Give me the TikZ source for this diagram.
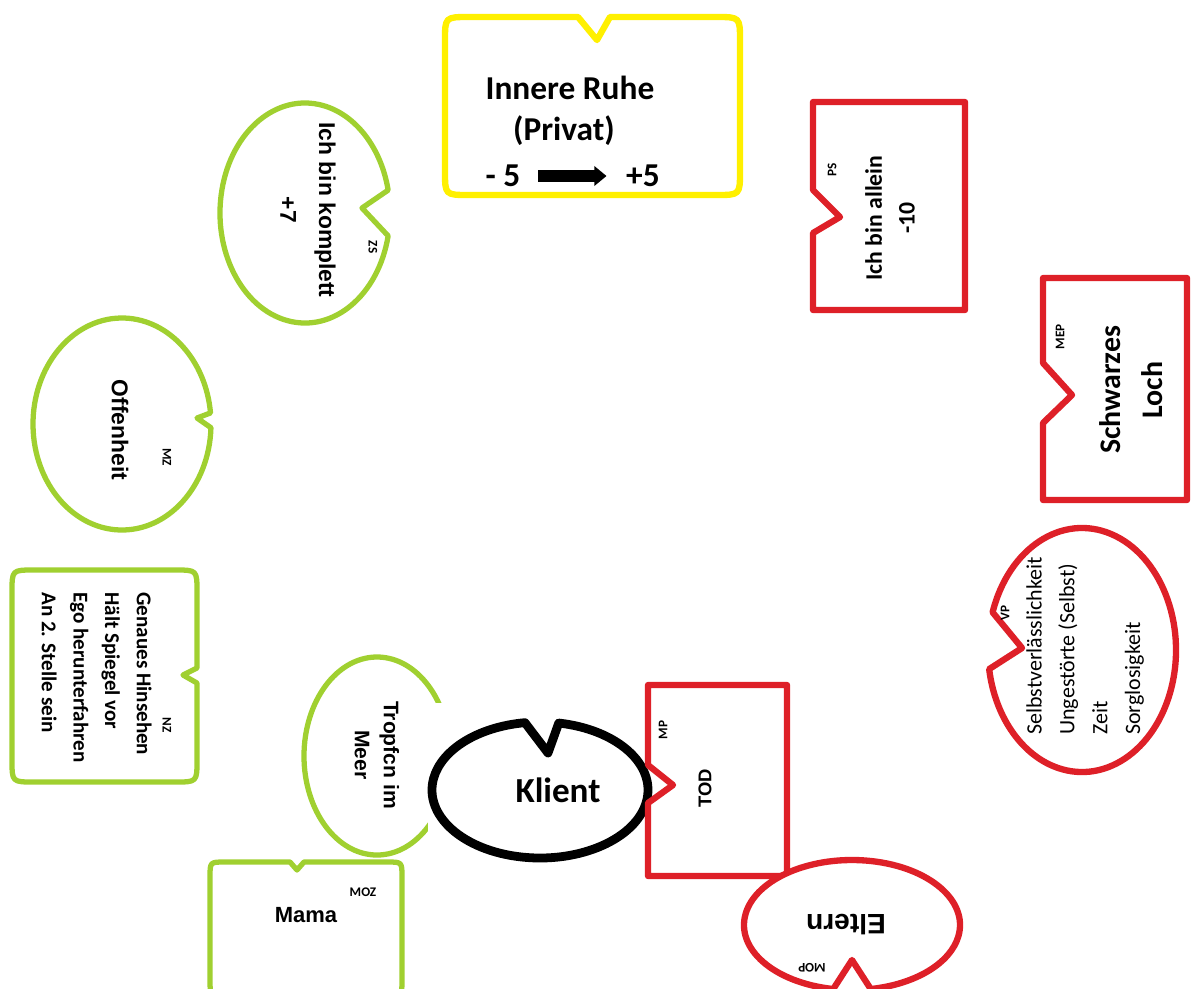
\documentclass[tikz,border=0pt]{standalone}
\usepackage{fontspec}
\setmainfont{Carlito}
\newfontfamily\arialfont{Liberation Sans}
\usetikzlibrary{
	arrows.meta,
	calc
}
\definecolor{lgruen}{RGB}{160,208,48}
\definecolor{lrot}{RGB}{222,32,40}
\definecolor{lgelb}{RGB}{255,240,0}

\begin{document}
\begin{tikzpicture}[
			x=0.02cm, y=-0.02cm,
			gruenrand/.style={draw=lgruen, line width=3pt, fill=white, line join=round},
			rotrand/.style={draw=lrot, line width=3.6pt, fill=white, line join=round},
			gelbrand/.style={draw=lgelb, line width=3.6pt, fill=white, line join=round},
			klientrand/.style={draw=black, line width=5pt, fill=white, line join=round},
			txt/.style={inner sep=0pt, align=center},
			kz/.style={inner sep=0pt, font=\fontsize{7.5}{8}\selectfont\bfseries},
			pfeil/.style={line width=6.5pt, -{Triangle[length=7pt,width=11pt]}}
		]

		\useasboundingbox (0,0) rectangle (1194,988);

		% Umrisse
		\draw[gelbrand] (578,17) -- (597,40) -- (610,17) -- (716,17) .. controls (740,17) .. (740,41)
			-- (740,171) .. controls (740,195) .. (716,195) -- (469,195) .. controls (445,195) .. (445,171)
			-- (445,41) .. controls (445,17) .. (469,17) -- cycle;

		\coordinate (kompl) at (305,213);
		\draw[gruenrand] ($(kompl)+(12:85 and 110)$) arc[start angle=12, end angle=348, x radius=85, y radius=110] -- (362,208) -- cycle;

		\draw[rotrand] (813,102) -- (965,102) -- (965,310) -- (813,310) -- (813,233) -- (840,217) -- (813,190) -- cycle;
		\draw[rotrand] (1043,278) -- (1187,278) -- (1187,500) -- (1043,500) -- (1043,423) -- (1072,395) -- (1043,363) -- cycle;

		\coordinate (offen) at (122,424);
		\draw[gruenrand] ($(offen)+(2:89 and 106)$) arc[start angle=2, end angle=354, x radius=89, y radius=106] -- (197,418) -- cycle;

		\draw[gruenrand] (34,570) -- (175,570) .. controls (197,570) .. (197,592) -- (197,668) -- (183,675) -- (197,683)
			-- (197,760) .. controls (197,782) .. (175,782) -- (34,782) .. controls (12,782) .. (12,760)
			-- (12,592) .. controls (12,570) .. (34,570) -- cycle;

		\coordinate (vp) at (1082,650);
		\draw[rotrand] ($(vp)+(198:94 and 122)$) arc[start angle=198, end angle=531, x radius=94, y radius=122] -- (1022,648) -- cycle;

		\draw[gruenrand] (377,756) ellipse[x radius=73, y radius=99];
		\fill[white] (428,703) rectangle (648,872);

		\coordinate (kl) at (540,790);
		\draw[klientrand] ($(kl)+(280:108 and 68)$) arc[start angle=280, end angle=622, x radius=108, y radius=68] -- (548,753) -- cycle;

		\draw[rotrand] (648,685) -- (787,685) -- (787,876) -- (648,876) -- (648,803) -- (673,785) -- (648,765) -- cycle;

		\draw[gruenrand] (225,862) -- (290,862) -- (297,870) -- (304,862) -- (387,862) .. controls (402,862) .. (402,877)
			-- (402,980) .. controls (402,995) .. (387,995) -- (225,995) .. controls (210,995) .. (210,980)
			-- (210,877) .. controls (210,862) .. (225,862) -- cycle;

		\coordinate (elt) at (852,925);
		\draw[rotrand] ($(elt)+(100:108 and 65)$) arc[start angle=100, end angle=440, x radius=108, y radius=65] -- (852,960) -- cycle;

		% Texte
		\node[txt, font=\fontsize{19}{22}\selectfont\bfseries] (ruhe) at (570,88) {Innere Ruhe};
		\node[txt, font=\fontsize{19}{22}\selectfont\bfseries] (privat) at (564,131) {(Privat)};
		\node[txt, font=\fontsize{19}{22}\selectfont\bfseries] (minus) at (503,176) {- 5};
		\node[txt, font=\fontsize{19}{22}\selectfont\bfseries] (plus) at (643,176) {+5};
		\draw[pfeil, shorten <=10pt, shorten >=11pt] (minus) -- (plus);

		\node[txt, rotate=-90, font=\arialfont\fontsize{13}{22}\selectfont\bfseries] (komplett) at (308,210) {Ich bin komplett\\+7};
		\node[kz, rotate=-90] (zs) at (373,247) {ZS};

		\node[txt, rotate=90, font=\fontsize{13.5}{18.7}\selectfont\bfseries] (allein) at (890,218) {Ich bin allein\\-10};
		\node[kz, rotate=90] (ps) at (832,170) {PS};

		\node[txt, rotate=90, font=\fontsize{17}{24}\selectfont\bfseries] (loch) at (1131,390) {Schwarzes\\Loch};
		\node[kz, rotate=90] (mep) at (1060,337) {MEP};

		\node[txt, rotate=-90, font=\arialfont\fontsize{13}{16}\selectfont\bfseries] (offenheit) at (120,430) {Offenheit};
		\node[kz, rotate=-90] (mz) at (167,457) {MZ};

		\node[inner sep=0pt, align=left, rotate=-90, anchor=north west, font=\fontsize{12}{18}\selectfont\bfseries] (hinsehen) at (152,592)
			{Genaues Hinsehen\\Hält Spiegel vor\\Ego herunterfahren\\An 2. Stelle sein};
		\node[kz, rotate=-90] (nz) at (167,725) {NZ};

		\node[inner sep=0pt, align=left, rotate=90, anchor=north west, font=\fontsize{12.5}{18.7}\selectfont] (zeit) at (1026,735)
			{Selbstverlässlichkeit\\Ungestörte (Selbst)\\Zeit\\Sorglosigkeit};
		\node[kz, rotate=90] (vpkz) at (1005,613) {VP};

		\node[txt, rotate=-90, font=\arialfont\fontsize{12}{16.5}\selectfont\bfseries] (tropfen) at (377,755) {Tropfcn im\\Meer};

		\node[txt, font=\fontsize{20}{24}\selectfont\bfseries] (klient) at (558,790) {Klient};

		\node[txt, rotate=90, font=\arialfont\fontsize{10.5}{12}\selectfont\bfseries] (tod) at (705,788) {TOD};
		\node[kz, rotate=90] (mp) at (663,730) {MP};

		\node[txt, font=\arialfont\fontsize{12.5}{15}\selectfont\bfseries] (mama) at (306,915) {Mama};
		\node[kz] (moz) at (363,892) {MOZ};

		\node[txt, rotate=180, font=\arialfont\fontsize{16}{19}\selectfont\bfseries] (eltern) at (846,925) {Eltern};
		\node[kz, rotate=180] (mop) at (812,968) {MOP};
	\end{tikzpicture}
\end{document}
